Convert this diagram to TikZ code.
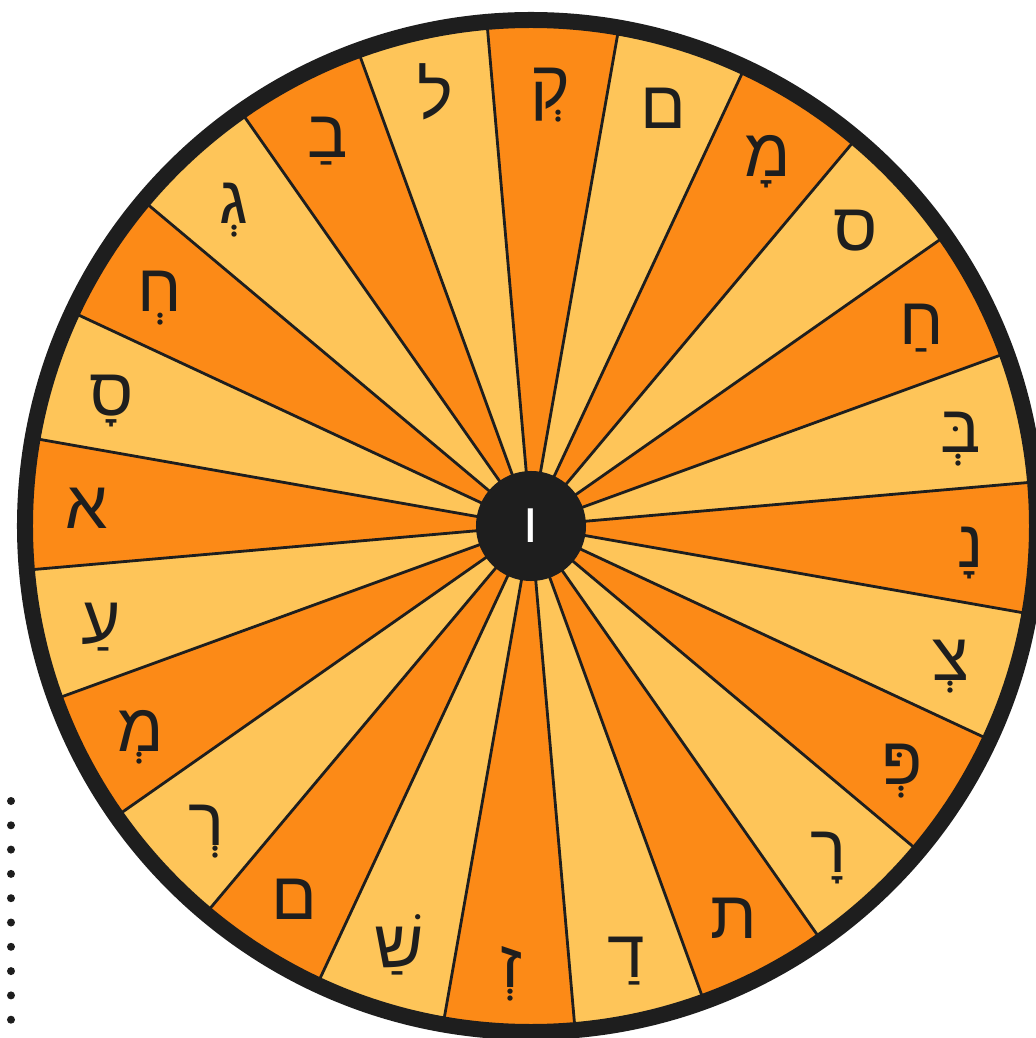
\documentclass[tikz,border=0pt]{standalone}
\usepackage{fontspec}
\newfontfamily\hebfont[Script=Hebrew]{Liberation Sans}
\TeXXeTstate=1
\definecolor{wheelorange}{HTML}{FC8A17}
\definecolor{wheelyellow}{HTML}{FEC559}
\definecolor{wheelrim}{HTML}{1E1E1E}

\begin{document}
\begin{tikzpicture}[x=0.025cm, y=0.025cm,
    letter/.style={font=\hebfont\fontsize{48}{48}\selectfont, text=wheelrim, inner sep=0pt, anchor=base, yshift=-0.55cm},
    hub/.style={circle, fill=wheelrim, minimum size=2.75cm, inner sep=0pt, text=white, font=\hebfont\fontsize{40}{40}\selectfont},
    spoke/.style={draw=wheelrim, line width=0.07cm},
    rim/.style={draw=wheelrim, line width=0.4cm}
]
\useasboundingbox (-531,-512) rectangle (505,526);

% wheel
\fill[wheelyellow] (0,0) circle[radius=500];
\foreach \a in {20,50,...,350}
    \fill[wheelorange] (0,0) -- (\a:500) arc[start angle=\a, delta angle=15, radius=500] -- cycle;
\foreach \a in {5,20,...,350}
    \draw[spoke] (0,0) -- (\a:500);
\draw[rim] (0,0) circle[radius=506];
\node[hub] (hub) at (0,0) {\beginR ו\endR};

% letters
\node[letter] (qof) at (87.5:440) {\beginR ק^^^^05b0\endR};
\node[letter] (memfinal) at (72.5:440) {\beginR ם\endR};
\node[letter] (memkamatz) at (57.5:440) {\beginR מ^^^^05b8\endR};
\node[letter] (samekh) at (42.5:440) {\beginR ס\endR};
\node[letter] (hetpatah) at (27.5:440) {\beginR ח^^^^05b7\endR};
\node[letter] (betsheva) at (12.5:440) {\beginR ב^^^^05bc^^^^05b0\endR};
\node[letter] (nunkamatz) at (-2.5:440) {\beginR נ^^^^05b8\endR};
\node[letter] (tsadisheva) at (-17.5:440) {\beginR צ^^^^05b0\endR};
\node[letter] (pesheva) at (-32.5:440) {\beginR פ^^^^05bc^^^^05b0\endR};
\node[letter] (reshkamatz) at (-47.5:440) {\beginR ר^^^^05b8\endR};
\node[letter] (tav) at (-62.5:440) {\beginR ת\endR};
\node[letter] (daletpatah) at (-77.5:440) {\beginR ד^^^^05b7\endR};
\node[letter] (zayinsheva) at (-92.5:440) {\beginR ז^^^^05b0\endR};
\node[letter] (shinpatah) at (-107.5:440) {\beginR ש^^^^05c1^^^^05b7\endR};
\node[letter] (memfinalb) at (-122.5:440) {\beginR ם\endR};
\node[letter] (reshsheva) at (-137.5:440) {\beginR ר^^^^05b0\endR};
\node[letter] (memsheva) at (-152.5:440) {\beginR מ^^^^05b0\endR};
\node[letter] (ayinpatah) at (-167.5:440) {\beginR ע^^^^05b7\endR};
\node[letter] (alef) at (177.5:445) {\beginR א\endR};
\node[letter] (samekhkamatz) at (162.5:440) {\beginR ס^^^^05b8\endR};
\node[letter] (hetsheva) at (147.5:440) {\beginR ח^^^^05b0\endR};
\node[letter] (gimelsheva) at (132.5:440) {\beginR ג^^^^05b0\endR};
\node[letter] (betpatah) at (117.5:440) {\beginR ב^^^^05b7\endR};
\node[letter] (lamed) at (102.5:440) {\beginR ל\endR};

% dots at the left
\foreach \k in {0,...,9}
    \fill[wheelrim] (-520,{-275-24.3*\k}) circle[radius=4];
\end{tikzpicture}
\end{document}
